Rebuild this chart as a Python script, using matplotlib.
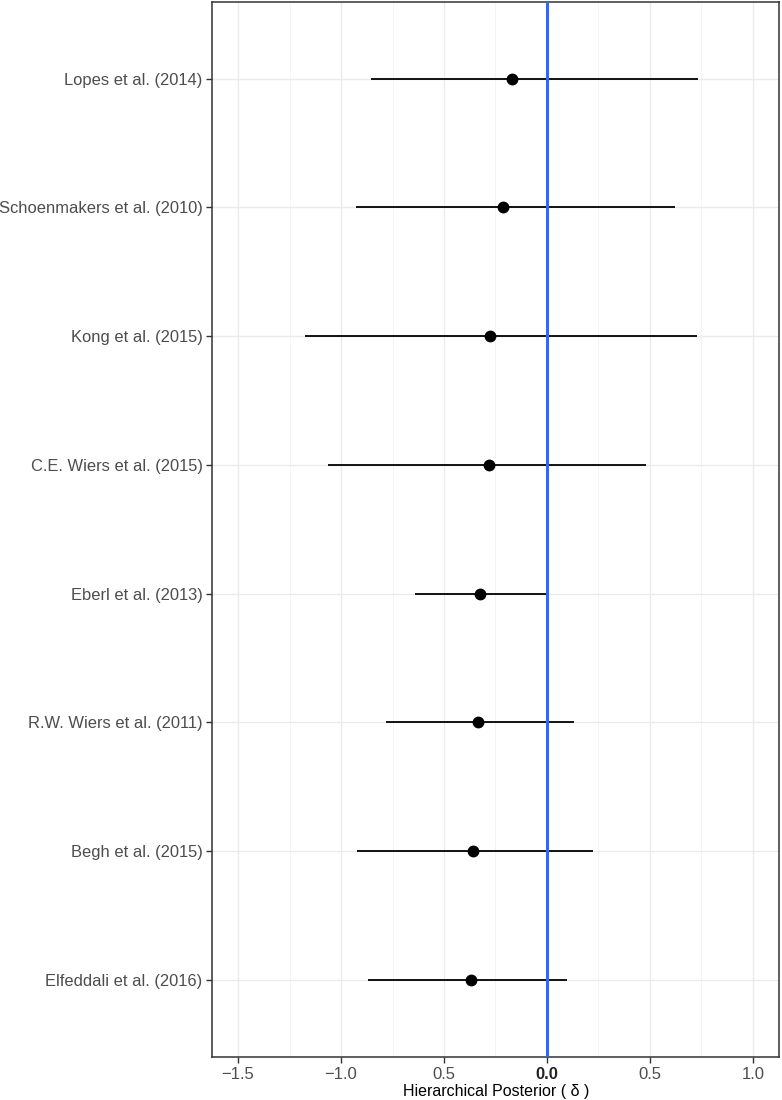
import matplotlib
matplotlib.use("Agg")
import matplotlib.pyplot as plt
from matplotlib.ticker import FixedLocator

plt.rcParams['font.family'] = ['Liberation Sans', 'DejaVu Sans']

studies = ["Lopes et al. (2014)", "Schoenmakers et al. (2010)", "Kong et al. (2015)",
           "C.E. Wiers et al. (2015)", "Eberl et al. (2013)", "R.W. Wiers et al. (2011)",
           "Begh et al. (2015)", "Elfeddali et al. (2016)"]
means = [-0.168, -0.212, -0.275, -0.282, -0.327, -0.333, -0.358, -0.371]
lower = [-0.854, -0.929, -1.175, -1.061, -0.639, -0.780, -0.924, -0.867]
upper = [0.731, 0.621, 0.728, 0.481, 0.000, 0.129, 0.223, 0.095]

x_ticks = [-1.5, -1.0, -0.5, 0.0, 0.5, 1.0]
x_tick_labels = ["\u22121.5", "\u22121.0", "0.5", "0.0", "0.5", "1.0"]
x_minor = [-1.25, -0.75, -0.25, 0.25, 0.75]

fig = plt.figure(figsize=(7.82, 11.0), dpi=100)
ax = fig.add_axes([0.2715, 0.0391, 0.725, 0.9595])

n = len(studies)
ypos = [n - i for i in range(n)]

ax.hlines(ypos, lower, upper, color='black', linewidth=1.3, zorder=3)
ax.plot(means, ypos, 'o', color='black', markersize=7.5, zorder=4)
ax.axvline(0, color='#3366FF', linewidth=2.2, zorder=5)

ax.set_xlim(-1.625, 1.128)
ax.set_ylim(0.4, n + 0.6)

ax.set_xticks(x_ticks)
ax.set_xticklabels(x_tick_labels)
ax.xaxis.set_minor_locator(FixedLocator(x_minor))
ax.set_yticks(ypos)
ax.set_yticklabels(studies)

ax.grid(True, which='major', color='#EBEBEB', linewidth=1.0, zorder=0)
ax.grid(True, which='minor', axis='x', color='#F3F3F3', linewidth=0.6, zorder=0)
ax.set_axisbelow(True)

ax.tick_params(axis='both', which='major', length=4, width=1.0, color='#333333',
               labelsize=12, labelcolor='#4D4D4D', pad=3)
ax.tick_params(axis='x', which='minor', length=0)
ax.tick_params(axis='y', labelsize=11.9)

for lab in ax.get_xticklabels():
    if lab.get_text() == "0.0":
        lab.set_fontweight('bold')
        lab.set_color('#222222')

for s in ax.spines.values():
    s.set_color('#333333')
    s.set_linewidth(1.1)

ax.set_xlabel("Hierarchical Posterior ( \u03b4 )", fontsize=11.5, color='black', labelpad=2)

fig.savefig("out.png", dpi=100)
